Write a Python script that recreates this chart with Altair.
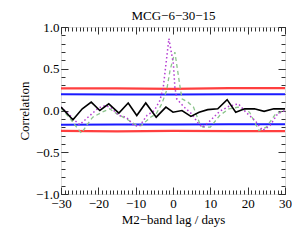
import altair as alt
import pandas as pd

# ---- data ----
black_lag = [-30, -26.8, -24.3, -21.9, -19.6, -17.2, -14.5, -12.0, -9.7, -7.3, -4.5, -1.9, 0.0,
             2.4, 4.8, 7.0, 9.3, 12.0, 14.5, 16.8, 19.2, 21.8, 24.4, 27.0, 30]
black_val = [0.04, -0.11, 0.02, 0.10, 0.0, 0.08, -0.03, 0.09, -0.06, 0.09, -0.08, 0.04, -0.02,
             0.0, -0.07, -0.02, 0.01, 0.02, 0.13, -0.02, 0.02, 0.02, -0.01, 0.02, 0.02]

purple_lag = [-30, -28, -26.5, -25, -22.5, -20, -18, -16.5, -14.5, -12.5, -10.5, -9, -7, -5,
              -3.5, -2.6, -1.1, 0.1, 0.5, 1.0, 3, 5, 7, 8, 10, 12.5, 15, 17.5, 19.5, 22, 24, 26, 28, 30]
purple_val = [0.04, -0.04, -0.11, -0.17, -0.07, 0.03, 0.06, 0.03, -0.06, -0.08, -0.18, -0.19, -0.06, 0.0,
              0.12, 0.28, 0.86, 0.56, 0.28, 0.14, 0.04, -0.04, -0.17, -0.20, -0.12, -0.01, 0.05, 0.08,
              -0.02, -0.12, -0.24, -0.18, -0.04, 0.0]

green_lag = [-30, -27.5, -25.5, -24.5, -23, -21.5, -19, -17, -15, -12.5, -10, -8.5, -6, -4.5, -3,
             -1.7, -0.8, 0.5, 1.9, 2.4, 4, 5.5, 7.2, 8, 10, 12.5, 15, 17.5, 20.5, 23, 25, 27.5, 30]
green_val = [0.03, -0.10, -0.22, -0.27, -0.17, -0.08, -0.02, 0.02, -0.04, -0.10, -0.17, -0.18, -0.08,
             -0.04, 0.08, 0.24, 0.48, 0.70, 0.28, 0.14, 0.10, 0.04, -0.16, -0.20, -0.20, -0.06, 0.02,
             0.04, -0.02, -0.24, -0.20, -0.04, 0.0]

limit_lag = [-30, -15, 0, 15, 30]
red_upper = [0.265, 0.265, 0.26, 0.268, 0.268]
red_lower = [-0.245, -0.25, -0.245, -0.248, -0.248]
blue_upper = [0.195, 0.193, 0.193, 0.195, 0.195]
blue_lower = [-0.17, -0.168, -0.168, -0.166, -0.166]

x_major = [-30, -20, -10, 0, 10, 20, 30]
x_minor = list(range(-30, 31))
y_major = [-1.0, -0.5, 0.0, 0.5, 1.0]
y_minor = [round(-1.0 + 0.1 * i, 1) for i in range(21)]

chart_title = "MCG\u22126\u221230\u221215"
x_title = "M2\u2212band lag / days"
y_title = "Correlation"

FONT = "Liberation Serif"
xs = alt.Scale(domain=[-30, 30], nice=False, zero=False)
ys = alt.Scale(domain=[-1, 1], nice=False, zero=False)


def df(lag, val):
    return pd.DataFrame({"lag": lag, "val": val})


def xaxis(orient, values, size, labels=False, title=None, tpad=2):
    kw = dict(orient=orient, values=values, tickSize=size, offset=-size, domain=False,
              grid=False, labels=labels, tickColor="#333333", tickWidth=1)
    if labels:
        kw.update(labelFont=FONT, labelFontSize=13, labelColor="black", labelPadding=3,
                  labelExpr="replace(datum.label, '-', '\u2212')", labelFlush=False,
                  labelOverlap=False)
    if title:
        kw.update(title=title, titleFont=FONT, titleFontSize=13, titleFontWeight="normal",
                  titleColor="black", titlePadding=tpad, titleAnchor="middle")
    else:
        kw.update(title=None)
    return alt.Axis(**kw)


def yaxis(orient, values, size, labels=False, title=None):
    kw = dict(orient=orient, values=values, tickSize=size, offset=-size, domain=False,
              grid=False, labels=labels, tickColor="#333333", tickWidth=1)
    if labels:
        kw.update(labelFont=FONT, labelFontSize=13, labelColor="black", labelPadding=2,
                  labelExpr="replace(format(datum.value, '.1f'), '-', '\u2212')",
                  labelFlush=False, labelOverlap=False)
    if title:
        kw.update(title=title, titleFont=FONT, titleFontSize=13, titleFontWeight="normal",
                  titleColor="black", titlePadding=4)
    else:
        kw.update(title=None)
    return alt.Axis(**kw)


def line(data, color, width, dash=None, xa=None, ya=None, opacity=1.0):
    props = dict(color=color, strokeWidth=width, opacity=opacity, clip=True)
    if dash:
        props["strokeDash"] = dash
    return alt.Chart(data).mark_line(**props).encode(
        x=alt.X("lag:Q", scale=xs, axis=xa),
        y=alt.Y("val:Q", scale=ys, axis=ya),
    )


red1 = line(df(limit_lag, red_upper), "#ff2a2a", 2.2, xa=xaxis("top", x_minor, 4),
            ya=yaxis("right", y_minor, 4), opacity=0.9)
red2 = line(df(limit_lag, red_lower), "#ff2a2a", 2.2, opacity=0.9)
blue1 = line(df(limit_lag, blue_upper), "#1a1aff", 2.0,
             xa=xaxis("top", x_major, 7, title=chart_title, tpad=4),
             ya=yaxis("right", y_major, 7))
blue2 = line(df(limit_lag, blue_lower), "#1a1aff", 2.0)
green = line(df(green_lag, green_val), "#8cc48c", 1.3, dash=[4, 3],
             xa=xaxis("bottom", x_minor, 4), ya=yaxis("left", y_minor, 4))
purple = line(df(purple_lag, purple_val), "#b43cd2", 1.5, dash=[1.5, 2.5])
black = line(df(black_lag, black_val), "black", 1.6,
             xa=xaxis("bottom", x_major, 7, labels=True, title=x_title, tpad=3),
             ya=yaxis("left", y_major, 7, labels=True, title=y_title))

chart = alt.layer(red1, red2, blue1, blue2, green, purple, black).resolve_axis(
    x="independent", y="independent"
).properties(
    width=224,
    height=167,
    autosize="none",
    padding={"left": 53, "top": 19, "right": 7, "bottom": 34},
).configure_view(stroke="#333333", strokeWidth=1).configure(
    background="white", font=FONT
).configure_axis(labelFont=FONT, titleFont=FONT)

chart.save("out.html", embed_options={"renderer": "svg", "actions": False})
